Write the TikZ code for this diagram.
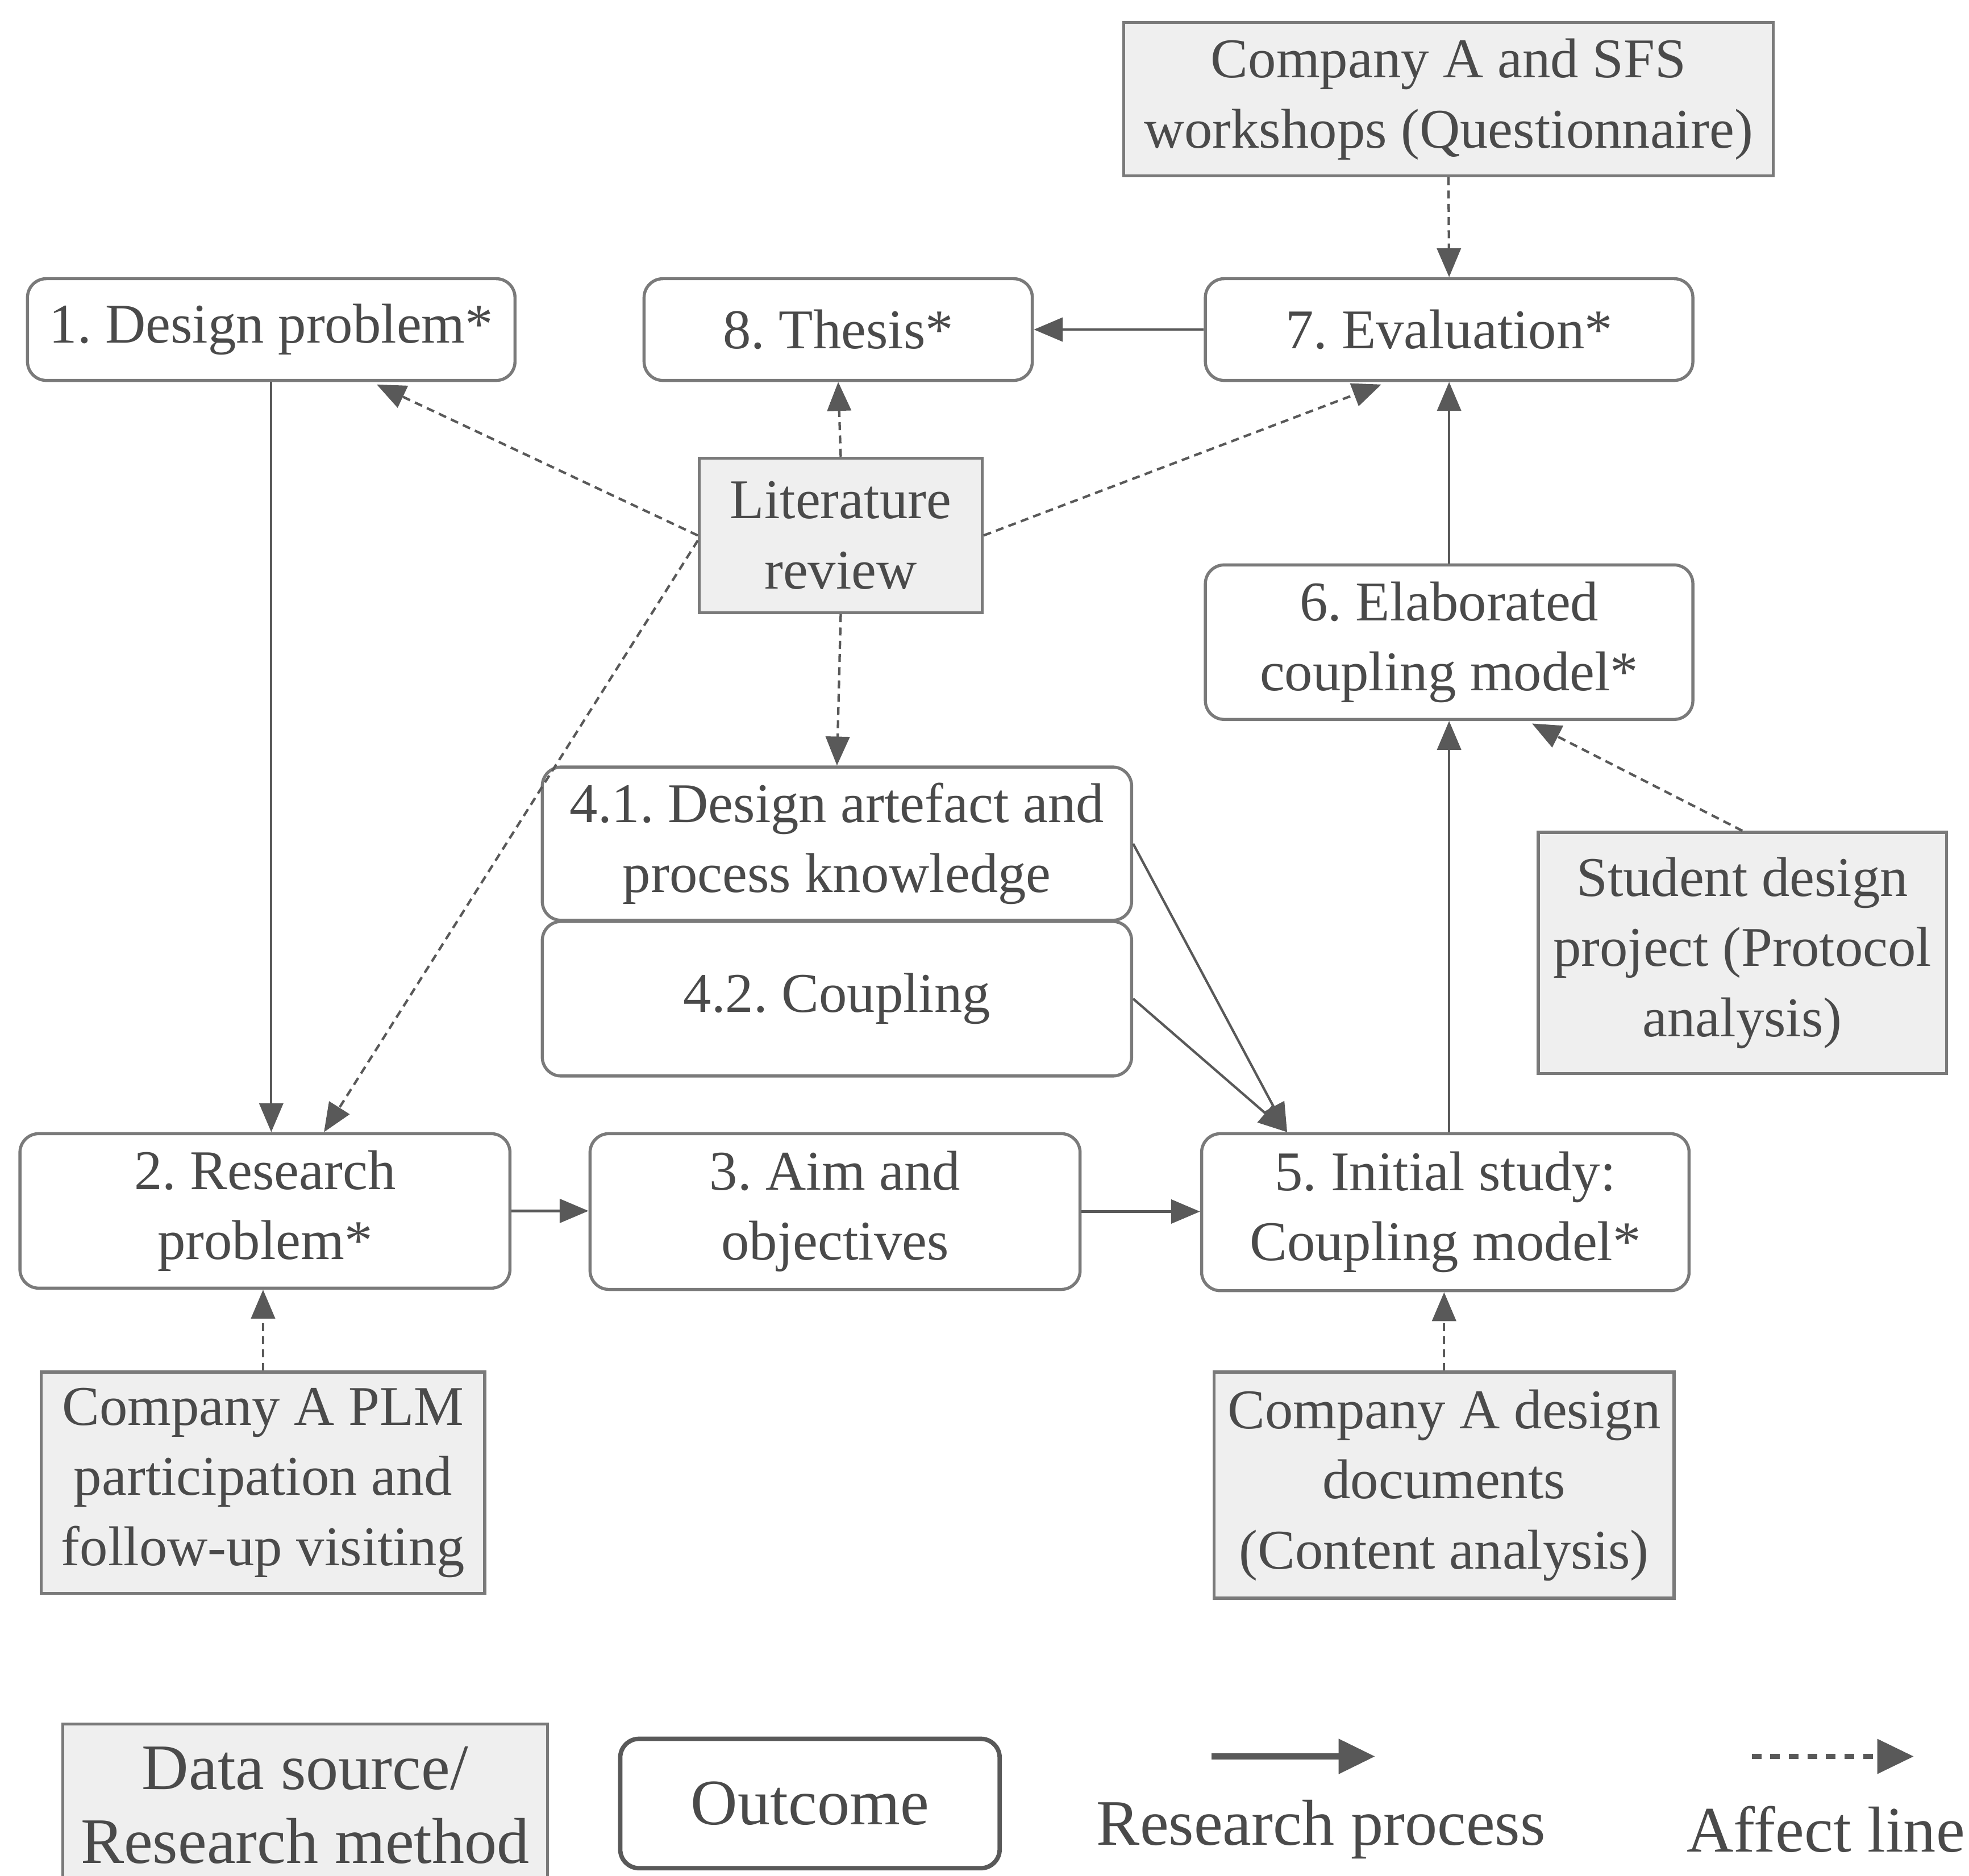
\documentclass[tikz,border=0pt]{standalone}
\usepackage{fontspec}
\setmainfont{Liberation Serif}
\usetikzlibrary{arrows.meta,calc}
\definecolor{ink}{HTML}{4A4A4A}
\definecolor{edge}{HTML}{7A7A7A}
\definecolor{wire}{HTML}{595959}
\definecolor{srcfill}{HTML}{EFEFEF}
\begin{document}
\frenchspacing
\begin{tikzpicture}[x=0.01cm,y=-0.01cm,
  every node/.style={text=ink,align=center,inner sep=0pt,
    font=\fontsize{12.7}{15.9}\selectfont},
  outcome/.style={draw=edge,line width=0.7pt,fill=white,rounded corners=1.5mm},
  source/.style={draw=edge,line width=0.7pt,fill=srcfill},
  proc/.style={draw=wire,line width=0.55pt,-{Triangle[length=2.3mm,width=1.9mm]}},
  affect/.style={proc,dash pattern=on 1.8pt off 1.2pt},
  sz/.style 2 args={minimum width=#1cm,minimum height=#2cm},
]
\useasboundingbox (0,0) rectangle (1568,1494);

% data sources and research methods
\node[source,sz={5.17}{1.22}] (quest) at (1153.5,79)
  {Company A and SFS\\workshops (Questionnaire)};
\node[source,sz={2.25}{1.23}] (lit) at (669.5,426.5)
  {Literature\\review};
\node[source,sz={3.25}{1.92}] (student) at (1387.5,759)
  {Student design\\project (Protocol\\analysis)};
\node[source,sz={3.53}{1.76}] (plm) at (209.5,1181)
  {Company A PLM\\participation and\\follow-up visiting};
\node[source,sz={3.66}{1.80}] (docs) at (1150,1183)
  {Company A design\\documents\\(Content analysis)};

% outcomes
\node[outcome,sz={3.88}{0.81}] (dp) at (216,262.5)
  {1. Design problem*};
\node[outcome,sz={3.09}{0.81}] (thesis) at (667.5,262.5)
  {8. Thesis*};
\node[outcome,sz={3.88}{0.81}] (eval) at (1154,262.5)
  {7. Evaluation*};
\node[outcome,sz={3.88}{1.23}] (elab) at (1154,511.5)
  {6. Elaborated\\coupling model*};
\node[outcome,sz={4.69}{1.22}] (know) at (666.5,672)
  {4.1. Design artefact and\\process knowledge};
\node[outcome,sz={4.69}{1.23}] (coup) at (666.5,795.5)
  {4.2. Coupling};
\node[outcome,sz={3.90}{1.23}] (rp) at (211,964.5)
  {2. Research\\problem*};
\node[outcome,sz={3.90}{1.24}] (aim) at (665,965)
  {3. Aim and\\objectives};
\node[outcome,sz={3.88}{1.25}] (init) at (1151,965.5)
  {5. Initial study:\\Coupling model*};

% research process
\draw[proc] (dp.south) -- (rp.north -| dp.south);
\draw[proc] (rp.east) -- (rp.east -| aim.west);
\draw[proc] (aim.east) -- (aim.east -| init.west);
\draw[proc] (know.east) -- ($(init.north)+(-126,0)$);
\draw[proc] (coup.east) -- ($(init.north)+(-126,0)$);
\draw[proc] (init.north -| elab.south) -- (elab.south);
\draw[proc] (elab.north) -- (eval.south);
\draw[proc] (eval.west) -- (thesis.east);

% affect lines
\draw[affect] (quest.south) -- (eval.north);
\draw[affect] (lit.north) -- (thesis.south);
\draw[affect] (lit.south) -- (know.north);
\draw[affect] (lit.west) -- ($(dp.south)+(84,2)$);
\draw[affect] (lit.east) -- ($(eval.south)+(-54,2)$);
\draw[affect] ($(lit.west)+(0,4)$) -- ($(rp.north)+(47,0)$);
\draw[affect] (student.north) -- ($(elab.south)+(66,2)$);
\draw[affect] (plm.north) -- (plm.north |- rp.south);
\draw[affect] (docs.north) -- (docs.north |- init.south);

% legend
\begin{scope}[every node/.style={text=ink,align=center,inner sep=0pt,
    font=\fontsize{14.7}{16.8}\selectfont}]
  \node[source,anchor=north,sz={3.86}{1.29}] (legsrc)
    at (243,1372) {Data source/\\Research method};
  \node[outcome,draw=wire,line width=1pt,sz={3.02}{1.03}]
    (legout) at (645,1436.5) {Outcome};
  \coordinate (pa) at (965,1399);
  \coordinate (pb) at (1095,1399);
  \draw[wire,line width=1.3pt,-{Triangle[length=2.9mm,width=2.7mm]}] (pa) -- (pb);
  \node (legproc) at (1052,1457) {Research process};
  \coordinate (qa) at (1395,1399);
  \coordinate (qb) at (1524,1399);
  \draw[wire,line width=1.1pt,dash pattern=on 2.2pt off 2pt,
    -{Triangle[length=2.9mm,width=2.7mm]}] (qa) -- (qb);
  \node (legaff) at (1454,1457) {Affect line};
\end{scope}
\end{tikzpicture}
\end{document}
